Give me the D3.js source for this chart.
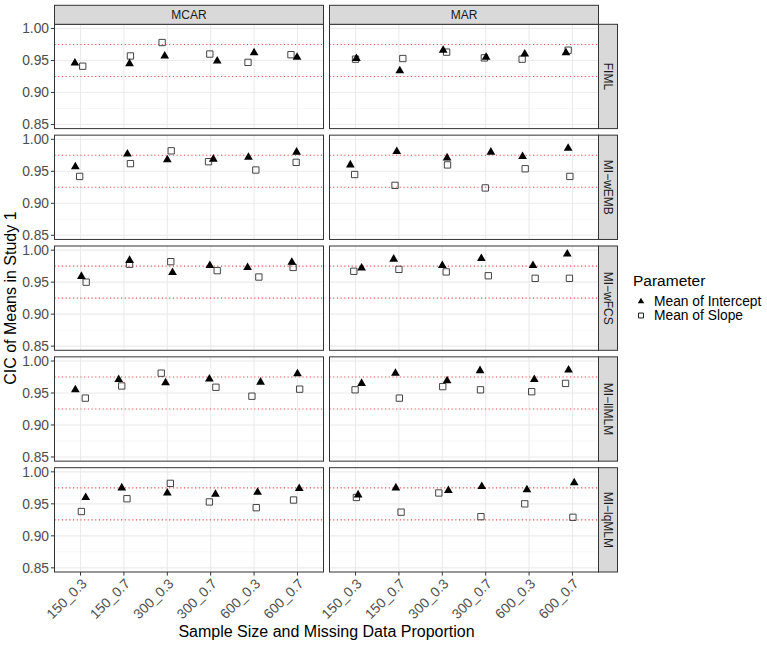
<!DOCTYPE html>
<html><head><meta charset="utf-8">
<script src="https://cdn.jsdelivr.net/npm/d3@7"></script>
<style>body{margin:0;background:#fff} text{font-family:"Liberation Sans",Arial,Helvetica,sans-serif}</style>
</head><body><svg id="c" width="767" height="646"></svg>
<script>
// ---------- data ----------
const categories = ["150_0.3","150_0.7","300_0.3","300_0.7","600_0.3","600_0.7"];
const mechanisms = ["MCAR","MAR"];
const methods = ["FIML","MI\u2212wEMB","MI\u2212wFCS","MI\u2212llMLM","MI\u2212lqMLM"];
const parameters = ["Mean of Intercept","Mean of Slope"];
const yTicks = [0.85,0.90,0.95,1.00];
const refLines = [0.925,0.975];

// rows = methods, columns = categories
const interceptMCAR = [
  [0.946,0.945,0.957,0.949,0.962,0.955],
  [0.957,0.977,0.968,0.969,0.972,0.980],
  [0.959,0.984,0.965,0.976,0.973,0.981],
  [0.955,0.971,0.966,0.972,0.967,0.980],
  [0.960,0.975,0.967,0.965,0.968,0.974]];
const slopeMCAR = [
  [0.941,0.957,0.978,0.960,0.947,0.959],
  [0.942,0.962,0.982,0.965,0.952,0.964],
  [0.950,0.978,0.982,0.968,0.958,0.973],
  [0.942,0.961,0.981,0.959,0.945,0.956],
  [0.938,0.958,0.982,0.953,0.944,0.956]];
const interceptMAR = [
  [0.953,0.934,0.966,0.955,0.960,0.962],
  [0.960,0.981,0.971,0.980,0.973,0.986],
  [0.972,0.986,0.976,0.987,0.976,0.994],
  [0.965,0.981,0.969,0.985,0.971,0.986],
  [0.964,0.975,0.971,0.977,0.972,0.983]];
const slopeMAR = [
  [0.952,0.953,0.963,0.954,0.952,0.966],
  [0.945,0.928,0.960,0.924,0.954,0.942],
  [0.967,0.970,0.966,0.960,0.956,0.956],
  [0.955,0.942,0.960,0.955,0.952,0.965],
  [0.960,0.937,0.967,0.930,0.950,0.929]];

// horizontal jitter (in category units)
const jitterInterceptMCAR = [
  [-0.13,0.13,-0.06,0.15,0.00,-0.01],
  [-0.12,0.08,0.00,0.06,-0.13,-0.02],
  [0.02,0.13,0.12,-0.02,-0.15,-0.13],
  [-0.12,-0.12,-0.04,-0.03,0.15,0.00],
  [0.12,-0.05,0.00,0.11,0.08,0.04]];
const jitterSlopeMCAR = [
  [0.05,0.15,-0.12,-0.02,-0.14,-0.15],
  [-0.02,0.15,0.09,-0.05,0.04,-0.03],
  [0.13,0.13,0.08,0.15,0.11,-0.10],
  [0.11,-0.05,-0.14,0.12,-0.05,0.05],
  [0.02,0.07,0.07,-0.03,0.05,-0.09]];
const jitterInterceptMAR = [
  [0.02,0.02,0.02,0.01,-0.10,-0.15],
  [-0.12,-0.05,0.11,0.12,-0.15,-0.10],
  [0.14,-0.12,0.00,-0.10,0.09,-0.12],
  [0.14,-0.08,0.11,-0.13,0.12,-0.09],
  [0.06,-0.07,0.14,-0.09,-0.05,0.04]];
const jitterSlopeMAR = [
  [0.00,0.09,0.10,-0.03,-0.16,-0.10],
  [-0.02,-0.09,0.12,-0.01,-0.09,-0.06],
  [-0.04,0.00,0.09,0.06,0.14,-0.07],
  [-0.01,0.01,0.01,-0.12,0.06,-0.16],
  [0.02,0.05,-0.08,-0.11,-0.10,0.01]];

const interceptData = [interceptMCAR, interceptMAR];
const slopeData = [slopeMCAR, slopeMAR];
const interceptJit = [jitterInterceptMCAR, jitterInterceptMAR];
const slopeJit = [jitterSlopeMCAR, jitterSlopeMAR];

// ---------- layout ----------
const colX = [54.5, 329.5], panelW = 269;
const rowY0 = 24.3, rowStep = 110.85, panelH = 104.3;
const stripH = 19;
const svg = d3.select("#c");
svg.append("rect").attr("width",767).attr("height",646).attr("fill","#fff");

const xs = colX.map(x0 => d3.scalePoint().domain(categories).range([x0, x0 + panelW]).padding(0.6));
const step = xs[0].step();
const minorTicks = d3.range(yTicks.length - 1).map(i => (yTicks[i] + yTicks[i+1]) / 2);

const triPlot = d3.symbol(d3.symbolTriangle, 33);
const sqPlot = d3.symbol(d3.symbolSquare, 40);

methods.forEach((m, r) => {
  const y0 = rowY0 + r * rowStep;
  const y = d3.scaleLinear().domain([0.8435, 1.0065]).range([y0 + panelH, y0]);
  mechanisms.forEach((mech, c) => {
    const x = xs[c];
    const g = svg.append("g");
    g.selectAll(".mn").data(minorTicks).join("line")
      .attr("x1", colX[c]).attr("x2", colX[c] + panelW)
      .attr("y1", d => y(d)).attr("y2", d => y(d))
      .attr("stroke", "#F2F2F2").attr("stroke-width", 0.6);
    g.selectAll(".mj").data(yTicks).join("line")
      .attr("x1", colX[c]).attr("x2", colX[c] + panelW)
      .attr("y1", d => y(d)).attr("y2", d => y(d))
      .attr("stroke", "#EBEBEB").attr("stroke-width", 1.1);
    g.selectAll(".vx").data(categories).join("line")
      .attr("x1", d => x(d)).attr("x2", d => x(d))
      .attr("y1", y0).attr("y2", y0 + panelH)
      .attr("stroke", "#EBEBEB").attr("stroke-width", 1.1);
    g.selectAll(".ref").data(refLines).join("line")
      .attr("x1", colX[c]).attr("x2", colX[c] + panelW)
      .attr("y1", d => y(d)).attr("y2", d => y(d))
      .attr("stroke", "#EE4B4B").attr("stroke-width", 1.1)
      .attr("stroke-dasharray", "1.1,2.6");
    // slope squares
    g.selectAll(".sq").data(categories).join("path")
      .attr("d", sqPlot)
      .attr("transform", (d, i) => `translate(${x(d) + slopeJit[c][r][i] * step},${y(slopeData[c][r][i])})`)
      .attr("fill", "none").attr("stroke", "#444").attr("stroke-width", 1);
    // intercept triangles
    g.selectAll(".tri").data(categories).join("path")
      .attr("d", triPlot)
      .attr("transform", (d, i) => `translate(${x(d) + interceptJit[c][r][i] * step},${y(interceptData[c][r][i])})`)
      .attr("fill", "#000");
    g.append("rect").attr("x", colX[c]).attr("y", y0).attr("width", panelW).attr("height", panelH)
      .attr("fill", "none").attr("stroke", "#333").attr("stroke-width", 1);

    // y axis (left column)
    if (c === 0) {
      const ax = g.append("g");
      ax.selectAll("line").data(yTicks).join("line")
        .attr("x1", colX[0] - 3.6).attr("x2", colX[0])
        .attr("y1", d => y(d)).attr("y2", d => y(d))
        .attr("stroke", "#333").attr("stroke-width", 1);
      ax.selectAll("text").data(yTicks).join("text")
        .attr("x", colX[0] - 5.5).attr("y", d => y(d)).attr("dy", "0.36em")
        .attr("text-anchor", "end").attr("font-size", 13.8).attr("fill", "#4D4D4D")
        .text(d => d3.format(".2f")(d));
    }
    // x axis (bottom row)
    if (r === methods.length - 1) {
      const ax = g.append("g");
      const yb = y0 + panelH;
      ax.selectAll("line").data(categories).join("line")
        .attr("x1", d => x(d)).attr("x2", d => x(d))
        .attr("y1", yb).attr("y2", yb + 3.6)
        .attr("stroke", "#333").attr("stroke-width", 1);
      ax.selectAll("text").data(categories).join("text")
        .attr("transform", d => `translate(${x(d)},${yb + 5.5}) rotate(-45)`)
        .attr("text-anchor", "end").attr("dy", "0.72em")
        .attr("font-size", 13.8).attr("fill", "#4D4D4D")
        .text(d => d);
    }
    // top strips
    if (r === 0) {
      svg.append("rect").attr("x", colX[c]).attr("y", y0 - stripH).attr("width", panelW).attr("height", stripH)
        .attr("fill", "#D9D9D9").attr("stroke", "#333").attr("stroke-width", 1);
      svg.append("text").attr("x", colX[c] + panelW / 2).attr("y", y0 - stripH / 2).attr("dy", "0.36em")
        .attr("text-anchor", "middle").attr("font-size", 12).attr("fill", "#1A1A1A").text(mech);
    }
  });
  // right strip
  const sx = colX[1] + panelW;
  svg.append("rect").attr("x", sx).attr("y", y0).attr("width", stripH).attr("height", panelH)
    .attr("fill", "#D9D9D9").attr("stroke", "#333").attr("stroke-width", 1);
  svg.append("text").attr("transform", `translate(${sx + stripH / 2},${y0 + panelH / 2}) rotate(90)`)
    .attr("dy", "0.36em").attr("text-anchor", "middle").attr("font-size", 12).attr("fill", "#1A1A1A").text(m);
});

// axis titles
const plotMidX = (colX[0] + colX[1] + panelW) / 2;
svg.append("text").attr("x", plotMidX).attr("y", 637).attr("text-anchor", "middle")
  .attr("font-size", 16).attr("fill", "#000").text("Sample Size and Missing Data Proportion");
const plotMidY = rowY0 + ((methods.length - 1) * rowStep + panelH) / 2;
svg.append("text").attr("transform", `translate(16,${plotMidY}) rotate(-90)`).attr("text-anchor", "middle")
  .attr("font-size", 16).attr("fill", "#000").text("CIC of Means in Study 1");

// legend
const lg = svg.append("g").attr("transform", "translate(633,0)");
lg.append("text").attr("x", 0).attr("y", 286).attr("font-size", 15.5).attr("fill", "#000").text("Parameter");
const legendSymbols = [d3.symbol(d3.symbolTriangle, 18), d3.symbol(d3.symbolSquare, 24)];
parameters.forEach((p, i) => {
  const cy = 301.5 + i * 14;
  const s = lg.append("path").attr("d", legendSymbols[i]).attr("transform", `translate(8,${cy})`);
  if (i === 0) s.attr("fill", "#000"); else s.attr("fill", "none").attr("stroke", "#000").attr("stroke-width", 0.9);
  lg.append("text").attr("x", 21).attr("y", cy).attr("dy", "0.36em").attr("font-size", 13.8).attr("fill", "#000").text(p);
});
</script>
</body></html>
